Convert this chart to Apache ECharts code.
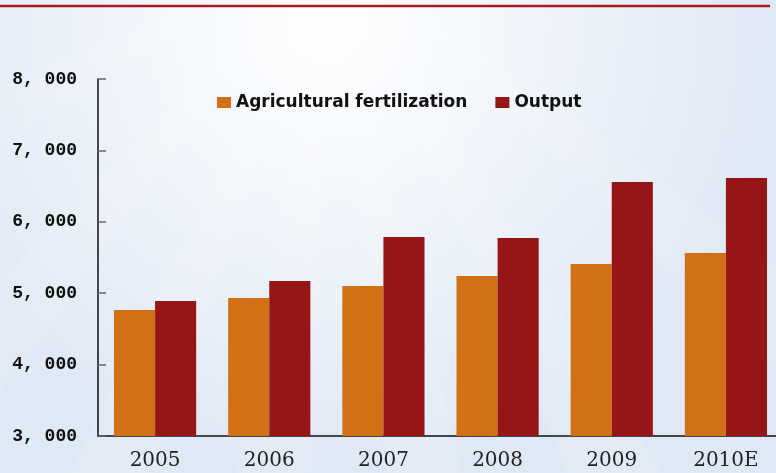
<!DOCTYPE html>
<html>
<head>
<meta charset="utf-8">
<script src="https://cdn.jsdelivr.net/npm/echarts@6/dist/echarts.min.js"></script>
<style>
  html, body { margin: 0; padding: 0; }
  #chart { width: 776px; height: 473px; }
</style>
</head>
<body>
<div id="chart"></div>
<script>
// 数据
const years = ['2005', '2006', '2007', '2008', '2009', '2010E']
const fertilization = [4765, 4933, 5101, 5241, 5409, 5563]
const output = [4891, 5171, 5787, 5773, 6557, 6613]

const colors = ['#D27016', '#961618']

const myChart = echarts.init(document.getElementById('chart'))

// 背景光线
const rays = []
const rayAngles = [-62, -40, -22, -6, 10, 28, 50]
rayAngles.forEach(function (a) {
  const cx = 330, cy = -60, len = 700
  const a1 = (a - 4) * Math.PI / 180
  const a2 = (a + 4) * Math.PI / 180
  rays.push({
    type: 'polygon',
    silent: true,
    z: -10,
    shape: {
      points: [
        [cx, cy],
        [cx + len * Math.sin(a1), cy + len * Math.cos(a1)],
        [cx + len * Math.sin(a2), cy + len * Math.cos(a2)]
      ]
    },
    style: { fill: 'rgba(255,255,255,0.1)' }
  })
})

const option = {
  backgroundColor: {
    type: 'radial',
    x: 0.42,
    y: 0.05,
    r: 0.95,
    colorStops: [
      { offset: 0, color: '#ffffff' },
      { offset: 0.4, color: '#f2f6fb' },
      { offset: 1, color: '#dfe8f5' }
    ]
  },
  color: colors,
  animation: false,
  graphic: rays.concat([
    {
      type: 'line',
      silent: true,
      shape: { x1: 0, y1: 6, x2: 770, y2: 6 },
      style: { stroke: '#a81c1f', lineWidth: 2.5 }
    }
  ]),
  grid: {
    left: 98,
    top: 79,
    width: 685,
    bottom: 37,
    outerBoundsMode: 'none'
  },
  legend: {
    data: ['Agricultural fertilization', 'Output'],
    left: 212,
    top: 89,
    itemWidth: 14,
    itemHeight: 11,
    itemGap: 28,
    icon: 'rect',
    textStyle: {
      fontFamily: 'DejaVu Sans, sans-serif',
      fontWeight: 'bold',
      fontSize: 17,
      color: '#111'
    }
  },
  xAxis: {
    type: 'category',
    data: years,
    axisLine: { lineStyle: { color: '#111', width: 1.5 } },
    axisTick: { inside: true, length: 7, lineStyle: { color: '#111' } },
    axisLabel: {
      margin: 15,
      fontFamily: 'DejaVu Serif, serif',
      fontSize: 20,
      color: '#222'
    }
  },
  yAxis: {
    type: 'value',
    min: 3000,
    max: 8000,
    interval: 1000,
    axisLine: { show: true, lineStyle: { color: '#111', width: 1.5 } },
    axisTick: { show: true, inside: true, length: 8, lineStyle: { color: '#666', width: 1.5 } },
    splitLine: { show: false },
    axisLabel: {
      margin: 21,
      fontFamily: 'Liberation Mono, monospace',
      fontWeight: 'bold',
      fontSize: 18,
      color: '#111',
      formatter: function (v) {
        return String(v).replace(/\B(?=(\d{3})+(?!\d))/g, ', ')
      }
    }
  },
  series: [
    {
      name: 'Agricultural fertilization',
      type: 'bar',
      data: fertilization,
      barGap: '0%',
      barCategoryGap: '28%'
    },
    {
      name: 'Output',
      type: 'bar',
      data: output,
      barGap: '0%',
      barCategoryGap: '28%'
    }
  ]
}

myChart.setOption(option)
</script>
</body>
</html>
